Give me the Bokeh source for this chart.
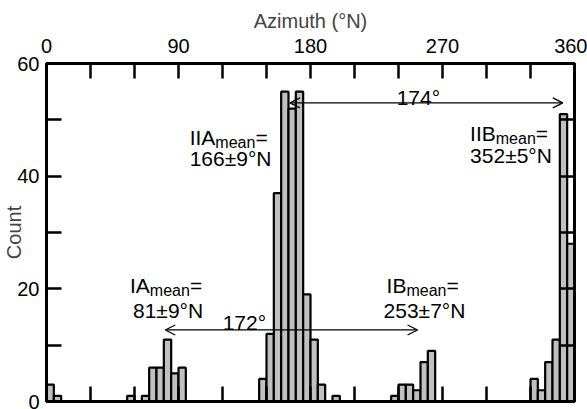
from bokeh.plotting import figure
from bokeh.models import Label, Arrow, OpenHead, FixedTicker, LinearAxis, CustomJSTickFormatter
from bokeh.embed import file_html
from bokeh.resources import INLINE

# ---------------- data ----------------
bin_width = 5
bin_starts = list(range(0, 360, bin_width))
counts = (
    [3, 1, 0, 0, 0, 0, 0, 0, 0, 0, 0, 1] +        # 0-55
    [0, 1, 6, 6, 11, 5, 6, 0, 0, 0, 0, 0] +       # 60-115
    [0, 0, 0, 0, 0, 4, 12, 37, 55, 52, 55, 19] +  # 120-175
    [11, 3, 0, 1, 0, 0, 0, 0, 0, 0, 0, 1] +       # 180-235
    [3, 3, 2, 7, 9, 0, 0, 0, 0, 0, 0, 0] +        # 240-295
    [0, 0, 0, 0, 0, 0, 4, 2, 7, 11, 51, 28]       # 300-355
)
x_major_ticks = [0, 90, 180, 270, 360]
x_minor_ticks = [30, 60, 120, 150, 210, 240, 300, 330]
y_major_ticks = [0, 20, 40, 60]
y_minor_ticks = [10, 30, 50]

group_names = ["IA", "IB", "IIA", "IIB"]
group_means = [81, 253, 166, 352]
group_sd = [9, 7, 9, 5]
angle_I = 172
angle_II = 174

# ---------------- figure ----------------
W, H = 587, 409
ML, MR, MT, MB = 43, 13, 63, 8
FW, FH = W - ML - MR, H - MT - MB
PXY = FH / 60.0   # px per count
PXX = FW / 360.0  # px per degree

FONT = "Liberation Sans"

p = figure(width=W, height=H, x_range=(0, 360), y_range=(0, 60),
           x_axis_location="above", toolbar_location=None, output_backend="svg",
           min_border_left=ML, min_border_right=MR, min_border_top=MT, min_border_bottom=MB)
p.xgrid.grid_line_color = None
p.ygrid.grid_line_color = None
p.outline_line_color = "black"
p.outline_line_width = 3
p.background_fill_color = "white"
p.border_fill_color = "white"

xt = FixedTicker(ticks=x_major_ticks, minor_ticks=x_minor_ticks)
yt = FixedTicker(ticks=y_major_ticks, minor_ticks=y_minor_ticks)

def style_axis(ax, ticker, show_labels):
    ax.ticker = ticker
    ax.axis_line_width = 3
    ax.axis_line_color = "black"
    ax.major_tick_in = 15
    ax.major_tick_out = 0
    ax.minor_tick_in = 15
    ax.minor_tick_out = 0
    ax.major_tick_line_width = 2.5
    ax.minor_tick_line_width = 2.5
    ax.major_tick_line_color = "black"
    ax.minor_tick_line_color = "black"
    ax.major_label_text_font = FONT
    ax.major_label_text_color = "black"
    if show_labels:
        ax.major_label_text_font_size = "20px"
    else:
        ax.formatter = CustomJSTickFormatter(code="return ''")
        ax.major_label_text_font_size = "0px"
        ax.major_label_standoff = 0

# top axis
top = p.xaxis[0]
style_axis(top, xt, True)
top.major_label_standoff = 11
top.axis_label = "Azimuth (°N)"
top.axis_label_text_font = FONT
top.axis_label_text_font_size = "20px"
top.axis_label_text_font_style = "normal"
top.axis_label_standoff = 4

# left axis
left = p.yaxis[0]
style_axis(left, yt, True)
left.major_label_standoff = 7
left.axis_label = "Count"
left.axis_label_text_font = FONT
left.axis_label_text_font_size = "20px"
left.axis_label_text_font_style = "normal"
left.axis_label_standoff = -11

bottom = LinearAxis()
style_axis(bottom, xt, False)
p.add_layout(bottom, "below")
right = LinearAxis()
style_axis(right, yt, False)
p.add_layout(right, "right")

# ---------------- bars ----------------
lefts = [s for s, c in zip(bin_starts, counts) if c > 0]
tops = [c for c in counts if c > 0]
rights = [s + bin_width for s in lefts]
p.quad(left=lefts, right=rights, bottom=0, top=tops,
       fill_color="#c0c0c0", line_color="black", line_width=2.2)

# ---------------- arrows ----------------
mean = dict(zip(group_names, group_means))
sd = dict(zip(group_names, group_sd))
y_arrow_I = 12.7
y_arrow_II = 53.0
for (a, b, yy) in [("IA", "IB", y_arrow_I), ("IIA", "IIB", y_arrow_II)]:
    p.add_layout(Arrow(x_start=mean[a], y_start=yy, x_end=mean[b], y_end=yy,
                       start=OpenHead(size=10, line_width=1.3, line_color="black"),
                       end=OpenHead(size=10, line_width=1.3, line_color="black"),
                       line_width=1.3, line_color="black"))

MAIN = 21
SUB = 16
def deg(px):
    return (px - ML) / PXX
def cnt(py):
    return (MT + FH - py) / PXY

def label(x, y, text, size=MAIN, align="left", x_offset=0):
    p.add_layout(Label(x=x, y=y, text=text, text_font=FONT, text_font_size=f"{size}px",
                       text_align=align, text_baseline="alphabetic", text_color="black",
                       x_offset=x_offset))

# Arial / Liberation Sans advance widths (em)
ADV = {"I": 0.278, "A": 0.667, "B": 0.667, "m": 0.833, "e": 0.556, "a": 0.556, "n": 0.556}
def tw(s, size):
    return sum(ADV[c] for c in s) * size

def mean_label(x, y, name):
    label(x, y, name)
    w1 = tw(name, MAIN)
    label(x, y - 5 / PXY, "mean", SUB, x_offset=w1)
    w2 = tw("mean", SUB)
    label(x, y, "=", x_offset=w1 + w2)

# positions (from the reference picture)
mean_label(deg(187), cnt(137), "IIA")
label(deg(187), cnt(158), f"{mean['IIA']}±{sd['IIA']}°N")
mean_label(deg(469), cnt(133), "IIB")
label(deg(469), cnt(155), f"{mean['IIB']}±{sd['IIB']}°N")
mean_label(deg(127), cnt(285), "IA")
label(deg(130), cnt(310), f"{mean['IA']}±{sd['IA']}°N")
mean_label(deg(385), cnt(285), "IB")
label(deg(382), cnt(310), f"{mean['IB']}±{sd['IB']}°N")

label(deg(417), cnt(97), f"{angle_II}°", align="center")
label(deg(242), cnt(322), f"{angle_I}°", align="center")

open("out.html", "w").write(file_html(p, INLINE))
